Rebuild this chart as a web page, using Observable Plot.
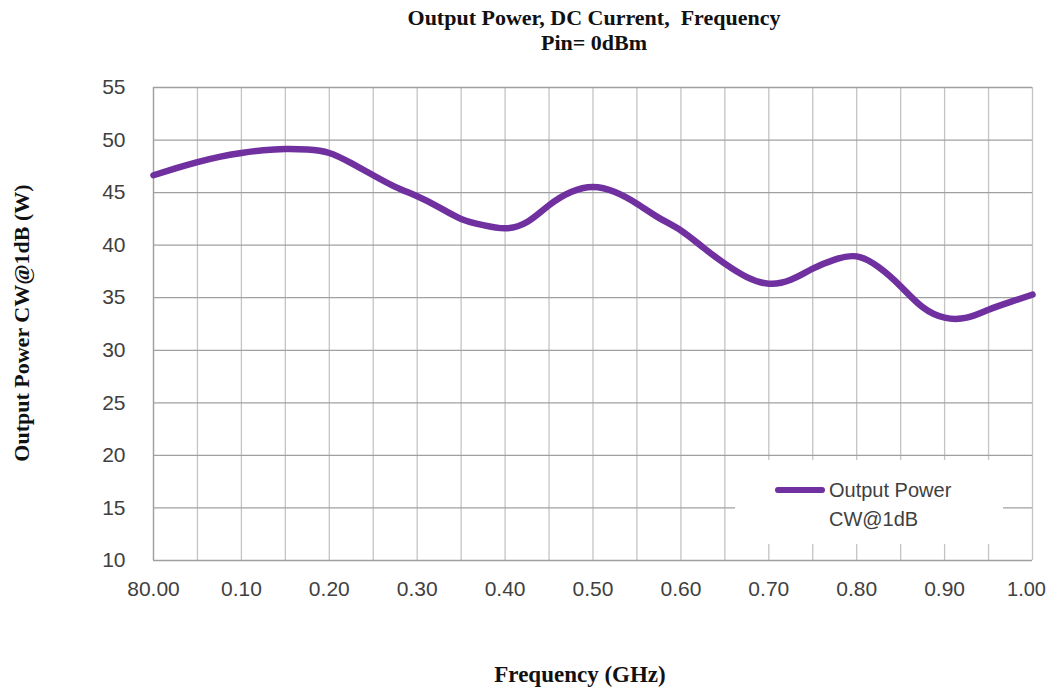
<!DOCTYPE html>
<html><head><meta charset="utf-8">
<script src="https://cdn.jsdelivr.net/npm/d3@7"></script>
<script src="https://cdn.jsdelivr.net/npm/@observablehq/plot@0.6"></script>
<style>
body{margin:0;background:#fff;}
#wrap{position:relative;width:1050px;height:688px;overflow:hidden;background:#fff;}
.t{position:absolute;font-family:"Liberation Serif","Times New Roman",serif;font-weight:bold;color:#111;white-space:pre;}
#legend{position:absolute;left:735px;top:460px;width:268px;height:84px;background:#fff;}
#legend .sw{position:absolute;left:40px;top:27px;width:50px;height:6px;border-radius:3px;background:#7030A0;}
#legend .lt{position:absolute;left:94px;font-family:"Liberation Sans",Arial,sans-serif;font-size:20px;color:#404040;line-height:29px;}
</style></head><body>
<div id="wrap"></div>
<script>
const freq = [0,0.025,0.05,0.075,0.1,0.125,0.15,0.175,0.2,0.225,0.25,0.275,0.3,0.325,0.35,0.375,0.4,0.425,0.45,0.475,0.5,0.525,0.55,0.575,0.6,0.625,0.65,0.675,0.7,0.725,0.75,0.775,0.8,0.825,0.85,0.875,0.9,0.925,0.95,0.975,1.0];
const power = [46.65,47.3,47.9,48.4,48.77,49.03,49.15,49.1,48.77,47.8,46.65,45.55,44.65,43.6,42.5,41.9,41.6,42.2,43.8,45.06,45.54,45.06,43.95,42.6,41.4,39.8,38.24,36.96,36.33,36.7,37.76,38.62,38.93,37.9,36.08,34.1,33.1,33.1,33.86,34.6,35.3];
const xGrid = [0,0.05,0.1,0.15,0.2,0.25,0.3,0.35,0.4,0.45,0.5,0.55,0.6,0.65,0.7,0.75,0.8,0.85,0.9,0.95,1.0];
const xTicks = [0,0.1,0.2,0.3,0.4,0.5,0.6,0.7,0.8,0.9,1.0];
const xTickLabels = ["80.00","0.10","0.20","0.30","0.40","0.50","0.60","0.70","0.80","0.90","1.00"];
const yTicks = [10,15,20,25,30,35,40,45,50,55];
const titleLines = ["Output Power, DC Current,  Frequency","Pin= 0dBm"];
const xTitle = "Frequency (GHz)";
const yTitle = "Output Power CW@1dB (W)";
const seriesName = ["Output Power","CW@1dB"];

const data = freq.map((f,i)=>({f, p: power[i]}));
const lineColor = "#7030A0";
const labelOf = d => xTickLabels[xTicks.indexOf(d)];
const lastTick = xTicks[xTicks.length - 1];

const chart = Plot.plot({
  width: 1050, height: 688,
  marginLeft: 153, marginRight: 18, marginTop: 87, marginBottom: 128,
  style: {fontFamily: "'Liberation Sans', Arial, sans-serif", fontSize: "21px", color: "#404040", background: "#fff"},
  x: {domain: [0,1]},
  y: {domain: [10,55]},
  marks: [
    Plot.ruleX(xGrid, {stroke: "#c4c4c4", strokeWidth: 1.3}),
    Plot.ruleY(yTicks, {stroke: "#a0a0a0", strokeWidth: 1.3}),
    Plot.ruleX([0], {stroke: "#a0a0a0", strokeWidth: 1.3}),
    Plot.axisX(xTicks.slice(0, -1), {tickSize: 0, tickPadding: 21, tickFormat: labelOf, label: null, fontSize: 21}),
    Plot.axisX([lastTick], {tickSize: 0, tickPadding: 21, tickFormat: labelOf, label: null, fontSize: 20, dx: -6}),
    Plot.axisY(yTicks, {tickSize: 0, tickPadding: 28, label: null, fontSize: 21}),
    Plot.line(data, {x: "f", y: "p", stroke: lineColor, strokeWidth: 6.5, curve: "natural", strokeLinecap: "round"})
  ]
});
const wrap = document.getElementById("wrap");
wrap.appendChild(chart);

function addText(txt, css){
  const d = document.createElement("div");
  d.className = "t"; d.textContent = txt;
  Object.assign(d.style, css);
  wrap.appendChild(d);
  return d;
}
addText(titleLines[0], {left:"594px", top:"5px", fontSize:"22px", transform:"translateX(-50%)"});
addText(titleLines[1], {left:"594px", top:"30px", fontSize:"22px", transform:"translateX(-50%)"});
addText(xTitle, {left:"580px", top:"662px", fontSize:"23px", transform:"translateX(-50%)"});
addText(yTitle, {left:"22px", top:"323px", fontSize:"22px", transform:"translate(-50%,-50%) rotate(-90deg)"});

const lg = document.createElement("div");
lg.id = "legend";
lg.innerHTML = '<div class="sw"></div>';
seriesName.forEach((s,i)=>{
  const e = document.createElement("div");
  e.className = "lt"; e.textContent = s; e.style.top = (16 + i*29) + "px";
  lg.appendChild(e);
});
wrap.appendChild(lg);
</script>
</body></html>
